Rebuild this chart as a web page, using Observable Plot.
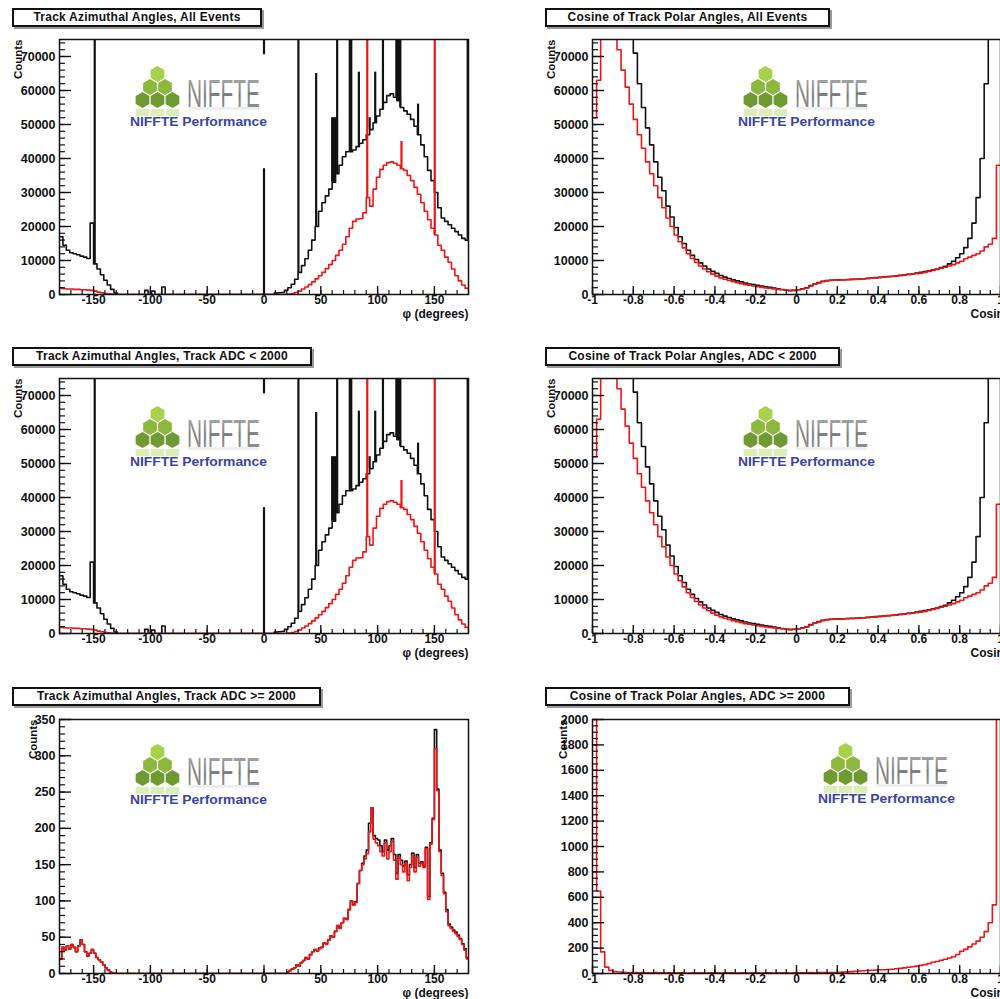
<!DOCTYPE html>
<html>
<head>
<meta charset="utf-8">
<script src="https://cdn.jsdelivr.net/npm/d3@7"></script>
<script src="https://cdn.jsdelivr.net/npm/@observablehq/plot@0.6"></script>
<style>
  html, body { margin: 0; padding: 0; background: #fff; overflow: hidden; }
  #page { position: relative; width: 1000px; height: 999px; overflow: hidden; background: #fff;
          font-family: "Liberation Sans", Arial, Helvetica, sans-serif; }
  .panel { position: absolute; }
  .panel svg { overflow: visible; max-width: none !important; display: block; }
  .title-box { position: absolute; box-sizing: border-box; height: 19px; border: 2px solid #111;
               box-shadow: 2px 2px 0 #9a9a9a; background: #fff; font-weight: bold; font-size: 12px;
               letter-spacing: 0.25px; line-height: 15px; text-align: center; white-space: nowrap; color: #111; }
  .logo { position: absolute; overflow: visible; }
</style>
</head>
<body>
<div id="page"></div>
<script>
// ---------------------------------------------------------------------------
// Histogram contents (counts per bin)
// ---------------------------------------------------------------------------

// Azimuthal angle, 3-degree bins from -180 to 180 (rows of 30 degrees)
const PHI_START = -180;
const PHI_BIN = 3;
const phiAllBlack = [
  17000, 14500, 13000, 12300, 12000, 11700, 11300, 11000, 10600, 21000,
  9000, 7500, 5800, 4200, 2800, 1500, 400, 0, 0, 0,
  0, 0, 0, 0, 0, 1200, 0, 1000, 0, 0,
  2200, 0, 0, 0, 0, 0, 0, 0, 0, 0,
  0, 0, 0, 0, 0, 0, 0, 0, 0, 0,
  0, 0, 0, 0, 0, 0, 0, 0, 0, 0,
  0, 0, 0, 400, 500, 600, 1200, 2000, 3000, 4500,
  6500, 8500, 10500, 13000, 16000, 20000, 24500, 27000, 29000, 31000,
  33000, 35500, 38000, 40500, 42000, 42000, 42500, 43500, 44500, 45500,
  47000, 48500, 50500, 52500, 54500, 56500, 58500, 59000, 58000, 57000,
  55000, 54000, 53000, 51500, 49500, 47000, 44000, 40500, 36500, 33500,
  30000, 25500, 22500, 21500, 20500, 19500, 18500, 17500, 16500, 16000
];
const phiAllRed = [
  1800, 1700, 1600, 1600, 1500, 1500, 1400, 1400, 1300, 1200,
  1000, 700, 500, 300, 200, 100, 0, 0, 0, 0,
  0, 0, 0, 0, 0, 0, 0, 0, 0, 0,
  0, 0, 0, 0, 0, 0, 0, 0, 0, 0,
  0, 0, 0, 0, 0, 0, 0, 0, 0, 0,
  0, 0, 0, 0, 0, 0, 0, 0, 0, 0,
  0, 0, 0, 0, 0, 0, 0, 100, 300, 600,
  1000, 1600, 2200, 2900, 3700, 4600, 5500, 6500, 7600, 8800,
  10000, 11500, 13000, 14800, 17000, 19500, 21500, 22200, 22300, 24000,
  28500, 26000, 31000, 34500, 36800, 38000, 38800, 39000, 38600, 38000,
  37000, 36500, 35000, 33500, 31500, 29500, 27000, 24500, 22000, 19500,
  17500, 14500, 13000, 11000, 9500, 7500, 5500, 4000, 2800, 1800
];
// Single hot bins (sector boundaries); counts above 75000 run off the frame
const phiBlackSpikeX = [-149, 0, 30.3, 45.9, 60, 61.5, 63, 64.4, 75.5, 76.8, 83.5, 93, 97.9, 104.7, 116.5, 117.7, 118.9, 120, 135.6, 179.3];
const phiBlackSpikeCounts = [100000, 37000, 100000, 65000, 52000, 52000, 52000, 100000, 100000, 100000, 65400, 52000, 65400, 100000, 100000, 100000, 100000, 100000, 56000, 100000];
const phiRedSpikeX = [90.9, 121, 150.3];
const phiRedSpikeCounts = [100000, 45000, 100000];
// Overflow stub of the bin at phi = 0
const phiZeroStub = [{x: 0, from: 70500, to: 75000}];

// Cosine of polar angle, 0.02 bins from -1 to 1 (rows of 0.2)
const COS_START = -1;
const COS_BIN = 0.02;
const cosAllBlack = [
  300000, 280000, 260000, 240000, 220000, 190000, 160000, 130000, 105000, 85000,
  71000, 62000, 55000, 49000, 44000, 39000, 34500, 30500, 26000, 22800,
  19700, 17000, 15000, 13000, 11500, 10300, 9300, 8400, 7500, 6800,
  6200, 5600, 5100, 4700, 4300, 4000, 3700, 3400, 3100, 2900,
  2700, 2500, 2300, 2100, 1900, 1700, 1450, 1250, 1150, 1200,
  1400, 1700, 2000, 2600, 3100, 3500, 3900, 4100, 4200, 4250,
  4300, 4350, 4400, 4450, 4500, 4550, 4650, 4750, 4850, 4950,
  5050, 5150, 5250, 5350, 5500, 5650, 5800, 5950, 6100, 6300,
  6500, 6750, 7000, 7300, 7500, 7900, 8300, 9000, 9800, 10800,
  12000, 13800, 16500, 21000, 28500, 40000, 62000, 90000, 160000, 300000
];
const cosAllRed = [
  52000, 63000, 80000, 100000, 98000, 90000, 72000, 66000, 61000, 56000,
  51500, 47000, 43000, 39000, 35500, 32000, 28500, 25500, 22500, 20000,
  17500, 15500, 13700, 12000, 10600, 9400, 8400, 7500, 6700, 6000,
  5400, 4900, 4500, 4100, 3800, 3500, 3200, 2900, 2700, 2500,
  2300, 2100, 1950, 1800, 1650, 1500, 1400, 1300, 1200, 1250,
  1400, 1600, 1900, 2500, 3000, 3400, 3800, 4000, 4150, 4200,
  4250, 4300, 4350, 4400, 4450, 4500, 4600, 4700, 4800, 4900,
  5000, 5100, 5200, 5300, 5400, 5550, 5700, 5850, 6000, 6150,
  6300, 6500, 6800, 7100, 7400, 7700, 8000, 8400, 8800, 9300,
  9800, 10500, 11000, 11500, 12000, 12800, 14000, 14800, 16500, 38000
];

// High-ADC azimuthal angle, 2-degree bins from -180 to 180 (rows of 20 degrees)
const PHI_HI_BIN = 2;
const phiHighBlack = [
  20, 36, 32, 38, 34, 40, 36, 30, 38, 46,
  40, 30, 24, 28, 33, 28, 22, 19, 16, 12,
  8, 5, 2, 1, 0, 0, 0, 0, 0, 0,
  0, 0, 0, 0, 0, 0, 0, 0, 0, 0,
  0, 0, 0, 0, 0, 0, 0, 0, 0, 0,
  0, 0, 0, 0, 0, 0, 0, 0, 0, 0,
  0, 0, 0, 0, 0, 0, 0, 0, 0, 0,
  0, 0, 0, 0, 0, 0, 0, 0, 0, 0,
  0, 0, 0, 0, 0, 0, 0, 0, 0, 0,
  0, 0, 0, 0, 0, 0, 0, 0, 0, 0,
  2, 4, 6, 8, 12, 10, 15, 18, 22, 20,
  26, 30, 33, 31, 35, 36, 42, 41, 46, 52,
  50, 58, 66, 63, 70, 76, 75, 88, 100, 95,
  99, 124, 142, 152, 162, 170, 207, 228, 190, 186,
  184, 176, 168, 184, 170, 176, 186, 164, 138, 164,
  156, 148, 155, 136, 150, 166, 146, 164, 152, 154,
  148, 174, 106, 180, 214, 336, 254, 170, 138, 112,
  88, 68, 64, 60, 57, 53, 48, 41, 34, 22
];
const phiHighRed = [
  20, 36, 32, 38, 34, 40, 36, 30, 38, 46,
  40, 30, 24, 28, 33, 28, 22, 19, 16, 12,
  8, 5, 2, 1, 0, 0, 0, 0, 0, 0,
  0, 0, 0, 0, 0, 0, 0, 0, 0, 0,
  0, 0, 0, 0, 0, 0, 0, 0, 0, 0,
  0, 0, 0, 0, 0, 0, 0, 0, 0, 0,
  0, 0, 0, 0, 0, 0, 0, 0, 0, 0,
  0, 0, 0, 0, 0, 0, 0, 0, 0, 0,
  0, 0, 0, 0, 0, 0, 0, 0, 0, 0,
  0, 0, 0, 0, 0, 0, 0, 0, 0, 0,
  2, 4, 6, 8, 12, 10, 15, 18, 22, 20,
  26, 30, 33, 31, 34, 36, 42, 40, 46, 52,
  50, 58, 66, 62, 70, 76, 74, 88, 100, 94,
  98, 124, 142, 150, 158, 165, 195, 228, 185, 180,
  176, 168, 162, 180, 158, 168, 182, 156, 130, 160,
  150, 140, 152, 128, 146, 162, 140, 160, 148, 152,
  146, 172, 102, 178, 212, 310, 252, 168, 135, 110,
  85, 66, 62, 58, 55, 51, 47, 40, 32, 20
];

// High-ADC cosine of polar angle, 0.02 bins from -1 to 1
const cosHighRed = [
  2600, 650, 170, 50, 25, 15, 12, 10, 8, 8,
  7, 6, 8, 6, 5, 7, 6, 5, 6, 5,
  5, 6, 5, 4, 6, 5, 5, 4, 5, 6,
  5, 4, 5, 5, 6, 4, 5, 5, 4, 5,
  5, 4, 6, 5, 4, 5, 5, 6, 4, 5,
  5, 6, 6, 7, 6, 7, 8, 7, 8, 8,
  9, 11, 13, 15, 18, 20, 22, 24, 26, 28,
  29, 30, 32, 34, 37, 40, 44, 49, 53, 58,
  64, 70, 78, 88, 95, 104, 112, 122, 132, 150,
  175, 190, 210, 232, 255, 285, 330, 400, 540, 2600
];

// Axis ticks
const phiMajorTicks = [-150, -100, -50, 0, 50, 100, 150];
const phiMinorTicks = d3.range(-180, 181, 10);
const cosMajorTicks = [-1, -0.8, -0.6, -0.4, -0.2, 0, 0.2, 0.4, 0.6, 0.8, 1];
const cosMinorTicks = d3.range(0, 41).map(i => Math.round((-1 + i * 0.05) * 100) / 100);
const countsMajorAll = [0, 10000, 20000, 30000, 40000, 50000, 60000, 70000];
const countsMinorAll = d3.range(0, 75001, 2000);
const countsMajorPhiHigh = [0, 50, 100, 150, 200, 250, 300, 350];
const countsMinorPhiHigh = d3.range(0, 351, 10);
const countsMajorCosHigh = [0, 200, 400, 600, 800, 1000, 1200, 1400, 1600, 1800, 2000];
const countsMinorCosHigh = d3.range(0, 2001, 50);

const panelTitles = [
  "Track Azimuthal Angles, All Events",
  "Cosine of Track Polar Angles, All Events",
  "Track Azimuthal Angles, Track ADC < 2000",
  "Cosine of Track Polar Angles, ADC < 2000",
  "Track Azimuthal Angles, Track ADC >= 2000",
  "Cosine of Track Polar Angles, ADC >= 2000"
];
const phiAxisTitle = "\u03c6 (degrees)";
const cosAxisTitle = "Cosine \u03b8";
const countsTitle = "Counts";
const logoWord = "NIFFTE";
const logoCaption = "NIFFTE Performance";

// ---------------------------------------------------------------------------
// Drawing
// ---------------------------------------------------------------------------
const page = document.getElementById("page");
const FONT = '"Liberation Sans", Arial, Helvetica, sans-serif';
const INK = "#111";
const RED = "#f01414";

function stepPoints(values, start, width) {
  const pts = values.map((v, i) => ({x: start + i * width, y: v}));
  pts.push({x: start + values.length * width, y: values[values.length - 1]});
  return pts;
}
function binValue(values, start, width, x) {
  const i = Math.max(0, Math.min(values.length - 1, Math.floor((x - start) / width + 1e-9)));
  return values[i];
}
const phiFormat = d => String(d);
const cosFormat = d => String(Math.round(d * 10) / 10);

function drawPanel(cfg) {
  const fw = cfg.frameWidth, fh = cfg.frameHeight;
  const mt = 12, mb = 34, mr = cfg.marginRight;
  const marks = [];
  for (const s of cfg.series) {
    marks.push(Plot.line(stepPoints(s.values, cfg.start, cfg.bin),
      {x: "x", y: "y", curve: "step-after", stroke: s.color, strokeWidth: 1.6, clip: true}));
    if (s.spikeX) {
      const spikes = s.spikeX.map((x, i) => ({x, y1: binValue(s.values, cfg.start, cfg.bin, x), y2: s.spikeCounts[i]}));
      marks.push(Plot.ruleX(spikes, {x: "x", y1: "y1", y2: "y2", stroke: s.color, strokeWidth: 2.2, clip: true}));
    }
    if (s.stubs) {
      marks.push(Plot.ruleX(s.stubs, {x: "x", y1: "from", y2: "to", stroke: s.color, strokeWidth: 2.2, clip: true}));
    }
  }
  marks.push(
    Plot.frame({stroke: INK, strokeWidth: 1.5}),
    Plot.tickY(cfg.yMinor, {y: d => d, insetRight: fw - 6, stroke: INK, strokeWidth: 1.2}),
    Plot.tickY(cfg.yMajor, {y: d => d, insetRight: fw - 12, stroke: INK, strokeWidth: 1.4}),
    Plot.tickX(cfg.xMinor, {x: d => d, insetTop: fh - 4, stroke: INK, strokeWidth: 1.2}),
    Plot.tickX(cfg.xMajor, {x: d => d, insetTop: fh - 8, stroke: INK, strokeWidth: 1.4}),
    Plot.axisY(cfg.yMajor, {tickSize: 0, tickPadding: 4, tickFormat: d => String(d), label: null,
      fontSize: 12.5, fontWeight: "bold", fill: INK}),
    Plot.axisX(cfg.xMajor, {tickSize: 0, tickPadding: 1, tickFormat: cfg.xFormat, label: null,
      fontSize: 12, fontWeight: "bold", fill: INK}),
    Plot.text([countsTitle], {text: d => d, frameAnchor: "top-left", dx: cfg.countsDx, dy: 0,
      rotate: -90, textAnchor: "end", fontSize: 11.5, fontWeight: "bold", fill: INK}),
    Plot.text([cfg.xTitle], {text: d => d, frameAnchor: "bottom-right", textAnchor: cfg.xTitleAnchor,
      dx: cfg.xTitleDx, dy: 23, fontSize: 12, fontWeight: "bold", fill: INK})
  );
  const width = cfg.marginLeft + fw + mr;
  const svg = Plot.plot({
    width,
    height: mt + fh + mb,
    marginLeft: cfg.marginLeft, marginRight: mr, marginTop: mt, marginBottom: mb,
    x: {domain: cfg.xDomain},
    y: {domain: cfg.yDomain},
    style: {fontFamily: FONT, fontWeight: "bold", background: "transparent", color: INK, overflow: "visible", maxWidth: "none"},
    marks
  });
  const holder = document.createElement("div");
  holder.className = "panel";
  holder.style.left = (cfg.frameLeft - cfg.marginLeft) + "px";
  holder.style.top = (cfg.frameTop - mt) + "px";
  holder.style.width = width + "px";
  holder.appendChild(svg);
  page.appendChild(holder);
}

function drawTitle(text, left, top, width) {
  const box = document.createElement("div");
  box.className = "title-box";
  box.style.left = left + "px";
  box.style.top = top + "px";
  box.style.width = width + "px";
  box.textContent = text;
  page.appendChild(box);
}

let logoCount = 0;
function hexPath(cx, cy, r) {
  const pts = d3.range(6).map(k => {
    const a = Math.PI / 180 * (60 * k - 90);
    return [cx + r * Math.cos(a), cy + r * Math.sin(a)];
  });
  return "M" + pts.map(p => p[0].toFixed(2) + "," + p[1].toFixed(2)).join("L") + "Z";
}
function drawLogo(left, top) {
  const id = "logo" + (logoCount++);
  const font = FONT.replace(/"/g, "'");
  const hexes = [
    [27.5, 8, "#a9d04a"],
    [20, 21, "#8cb83e"], [35, 21, "#8cb83e"],
    [12.5, 34, "#6f9a32"], [27.5, 34, "#6f9a32"], [42.5, 34, "#6f9a32"]
  ];
  const reflections = [12.5, 27.5, 42.5];
  let s = `<svg class="logo" xmlns="http://www.w3.org/2000/svg" width="150" height="66" style="left:${left}px;top:${top}px">`;
  s += `<defs><linearGradient id="${id}g" x1="0" y1="0" x2="0" y2="1">
          <stop offset="0" stop-color="#b4b4b4"/><stop offset="0.55" stop-color="#7c7c7c"/><stop offset="1" stop-color="#9a9a9a"/>
        </linearGradient>
        <linearGradient id="${id}r" x1="0" y1="0" x2="0" y2="1">
          <stop offset="0" stop-color="#c9c9c9" stop-opacity="0.55"/><stop offset="1" stop-color="#ffffff" stop-opacity="0"/>
        </linearGradient>
        <clipPath id="${id}c"><rect x="0" y="43" width="60" height="7"/></clipPath></defs>`;
  for (const [cx, cy, c] of hexes) s += `<path d="${hexPath(cx, cy, 7.9)}" fill="${c}"/>`;
  s += `<g clip-path="url(#${id}c)">`;
  for (const cx of reflections) s += `<path d="${hexPath(cx, 47, 7.9)}" fill="#cfe59a" opacity="0.7"/>`;
  s += `</g>`;
  // soft mirror shading under the word mark
  s += `<rect x="58" y="41.5" width="71" height="5" fill="url(#${id}r)"/>`;
  s += `<text x="57" y="40.5" font-family="${font}" font-size="38" fill="url(#${id}g)" textLength="73" lengthAdjust="spacingAndGlyphs">${logoWord}</text>`;
  s += `<text x="0" y="60" font-family="${font}" font-size="13" font-weight="bold" fill="#3a44a6" textLength="137" lengthAdjust="spacingAndGlyphs">${logoCaption}</text>`;
  s += `</svg>`;
  page.insertAdjacentHTML("beforeend", s);
}

// Row layout: frame tops and heights
const rows = [
  {frameTop: 39, frameHeight: 255, titleTop: 8, logoTop: 66},
  {frameTop: 378, frameHeight: 255, titleTop: 347, logoTop: 406},
  {frameTop: 719, frameHeight: 254, titleTop: 687, logoTop: 743}
];

function phiPanel(row, black, red, bin, yDomain, yMajor, yMinor, countsDx, withSpikes) {
  drawPanel({
    frameLeft: 59, frameTop: row.frameTop, frameWidth: 409, frameHeight: row.frameHeight,
    marginLeft: 59, marginRight: 32,
    start: PHI_START, bin, xDomain: [-180, 180], yDomain,
    xMajor: phiMajorTicks, xMinor: phiMinorTicks, yMajor, yMinor, xFormat: phiFormat,
    countsDx, xTitle: phiAxisTitle, xTitleAnchor: "end", xTitleDx: 0,
    series: [
      withSpikes ? {values: black, color: INK, spikeX: phiBlackSpikeX, spikeCounts: phiBlackSpikeCounts, stubs: phiZeroStub}
                 : {values: black, color: INK},
      withSpikes ? {values: red, color: RED, spikeX: phiRedSpikeX, spikeCounts: phiRedSpikeCounts}
                 : {values: red, color: RED}
    ]
  });
}
function cosPanel(row, series, yDomain, yMajor, yMinor, countsDx) {
  drawPanel({
    frameLeft: 592, frameTop: row.frameTop, frameWidth: 408, frameHeight: row.frameHeight,
    marginLeft: 92, marginRight: 60,
    start: COS_START, bin: COS_BIN, xDomain: [-1, 1], yDomain,
    xMajor: cosMajorTicks, xMinor: cosMinorTicks, yMajor, yMinor, xFormat: cosFormat,
    countsDx, xTitle: cosAxisTitle, xTitleAnchor: "start", xTitleDx: -30,
    series
  });
}

// Row 1: all events
phiPanel(rows[0], phiAllBlack, phiAllRed, PHI_BIN, [0, 75000], countsMajorAll, countsMinorAll, -46, true);
cosPanel(rows[0], [{values: cosAllBlack, color: INK}, {values: cosAllRed, color: RED}], [0, 75000], countsMajorAll, countsMinorAll, -46);
// Row 2: track ADC < 2000 (indistinguishable from all events at this scale)
phiPanel(rows[1], phiAllBlack, phiAllRed, PHI_BIN, [0, 75000], countsMajorAll, countsMinorAll, -46, true);
cosPanel(rows[1], [{values: cosAllBlack, color: INK}, {values: cosAllRed, color: RED}], [0, 75000], countsMajorAll, countsMinorAll, -46);
// Row 3: track ADC >= 2000
phiPanel(rows[2], phiHighBlack, phiHighRed, PHI_HI_BIN, [0, 350], countsMajorPhiHigh, countsMinorPhiHigh, -31, false);
cosPanel(rows[2], [{values: cosHighRed, color: RED}], [0, 2000], countsMajorCosHigh, countsMinorCosHigh, -34);

// Logos
drawLogo(130, rows[0].logoTop); drawLogo(738, rows[0].logoTop);
drawLogo(130, rows[1].logoTop); drawLogo(738, rows[1].logoTop);
drawLogo(130, rows[2].logoTop + 1); drawLogo(818, rows[2].logoTop);

// Title boxes
drawTitle(panelTitles[0], 12, rows[0].titleTop, 250);
drawTitle(panelTitles[1], 545, rows[0].titleTop, 285);
drawTitle(panelTitles[2], 12, rows[1].titleTop, 300);
drawTitle(panelTitles[3], 545, rows[1].titleTop, 295);
drawTitle(panelTitles[4], 12, rows[2].titleTop, 309);
drawTitle(panelTitles[5], 545, rows[2].titleTop, 305);
</script>
</body>
</html>
